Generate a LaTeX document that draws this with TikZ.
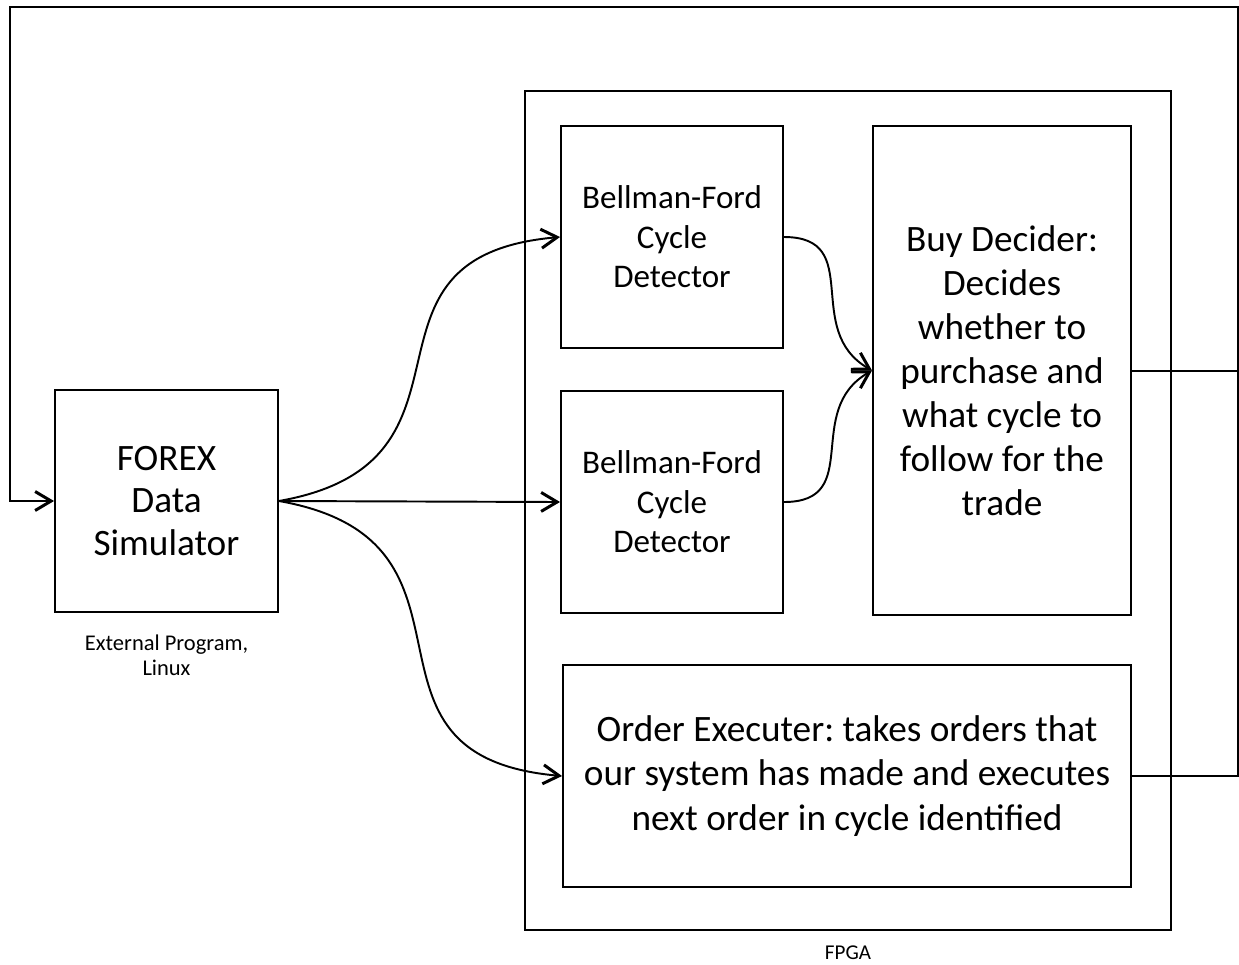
\documentclass[tikz,border=0pt]{standalone}
\usepackage{fontspec}
\setmainfont{Carlito}
\usetikzlibrary{arrows.meta}
\frenchspacing

\begin{document}
\begin{tikzpicture}[
        block/.style={draw, line width=1.1pt, align=center},
        flow/.style={line width=1.1pt, -{Straight Barb[length=3.2mm,width=3.8mm,line width=1.7pt]}},
        link/.style={line width=1.1pt}
    ]
        \useasboundingbox (0,0) rectangle (24.78,-19.28);

        \node[block, minimum width=12.92cm, minimum height=16.78cm] (fpga) at (16.96, -10.21) {};
        \node[font=\fontsize{12}{14}\selectfont] (fpgalbl) at (16.96, -19.06) {FPGA};

        \node[block, minimum width=4.46cm, minimum height=4.44cm, font=\fontsize{21.2}{24.4}\selectfont] (forex) at (3.33, -10.02) {FOREX\\Data\\Simulator};
        \node[align=center, font=\fontsize{12.8}{14.4}\selectfont] (forexlbl) at (3.33, -13.1) {External Program,\\Linux};

        \node[block, minimum width=4.44cm, minimum height=4.44cm, font=\fontsize{18.8}{22.4}\selectfont] (bf1) at (13.44, -4.74) {Bellman-Ford\\Cycle\\Detector};
        \node[block, minimum width=4.44cm, minimum height=4.44cm, font=\fontsize{18.8}{22.4}\selectfont] (bf2) at (13.44, -10.04) {Bellman-Ford\\Cycle\\Detector};
        \node[block, minimum width=5.16cm, minimum height=9.78cm, font=\fontsize{21.2}{25}\selectfont] (buy) at (20.04, -7.41) {Buy Decider:\\Decides\\whether to\\purchase and\\what cycle to\\follow for the\\trade};
        \node[block, minimum width=11.36cm, minimum height=4.44cm, font=\fontsize{21.2}{25.5}\selectfont] (order) at (16.94, -15.52) {Order Executer: takes orders that\\our system has made and executes\\next order in cycle identified};

        \coordinate (tr) at (24.76, -0.14);
        \coordinate (tl) at (0.2, -0.14);

        % data feed
        \draw[flow] (forex.east) to[out=10, in=185, looseness=1.5] (bf1.west);
        \draw[flow] (forex.east) -- (bf2.west);
        \draw[flow] (forex.east) to[out=-10, in=175, looseness=1.5] (order.west);

        % detectors to decider
        \draw[flow] (bf1.east) to[out=0, in=150, looseness=1.3] (buy.west);
        \draw[flow] (bf2.east) to[out=0, in=210, looseness=1.3] (buy.west);

        % back to simulator
        \draw[link] ([yshift=-0.3pt]buy.east) -- ([yshift=-0.3pt]buy.east -| tr);
        \draw[flow] (order.east) -| (tr) -| (tl) |- (forex.west);
    \end{tikzpicture}
\end{document}
